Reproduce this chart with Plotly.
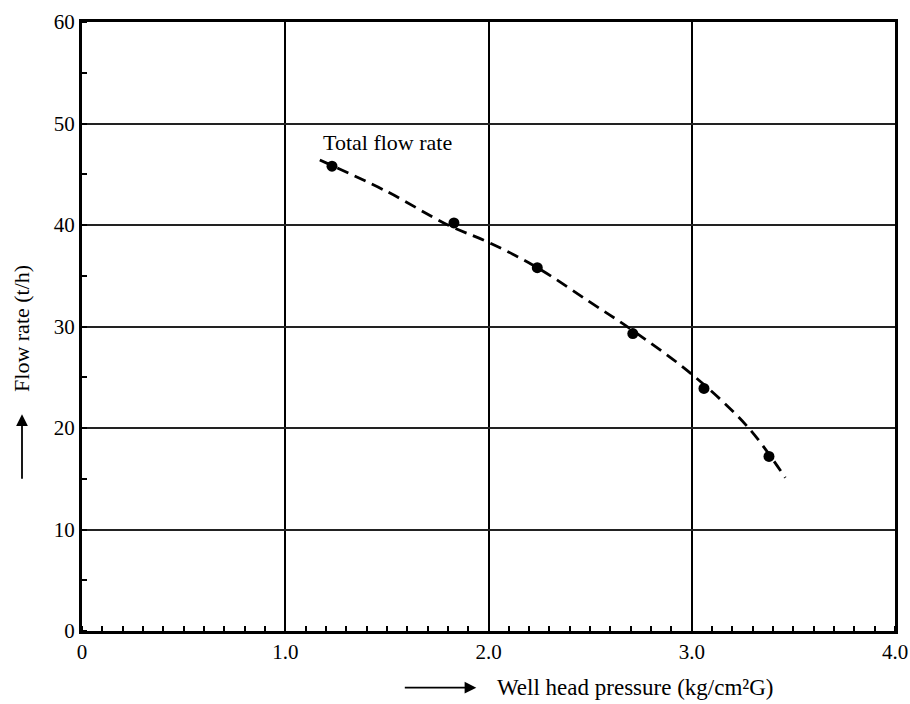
import plotly.graph_objects as go

# measured points
pressure = [1.23, 1.83, 2.24, 2.71, 3.06, 3.38]
flow = [45.8, 40.2, 35.8, 29.3, 23.9, 17.2]

# fitted dashed curve
curve_p = [1.17, 1.5, 1.80, 2.0, 2.24, 2.5, 2.71, 3.0, 3.28, 3.46]
curve_f = [46.4, 43.3, 40.0, 38.3, 35.8, 32.4, 29.6, 25.3, 20.0, 15.1]

x_ticks = [0, 1, 2, 3, 4]
x_tick_labels = ["0", "1.0", "2.0", "3.0", "4.0"]
y_ticks = [0, 10, 20, 30, 40, 50, 60]

FONT = "Liberation Serif"

fig = go.Figure()
fig.add_trace(go.Scatter(
    x=curve_p, y=curve_f, mode="lines",
    line=dict(color="black", width=2.8, dash="12px,7px", shape="spline"),
    hoverinfo="skip", showlegend=False))
fig.add_trace(go.Scatter(
    x=pressure, y=flow, mode="markers",
    marker=dict(color="black", size=11),
    showlegend=False))

fig.add_annotation(x=1.505, y=48.1, text="Total flow rate", showarrow=False,
                   font=dict(family=FONT, size=22, color="black"))

# y axis title with arrow
fig.add_annotation(xref="paper", yref="paper", x=-0.0738, y=0.496,
                   text="Flow rate (t/h)", textangle=-90, showarrow=False,
                   xanchor="center", yanchor="middle",
                   font=dict(family=FONT, size=22, color="black"))
fig.add_annotation(xref="paper", yref="paper", x=-0.0738, y=0.356,
                   text="", showarrow=True, arrowhead=2, arrowsize=1.3,
                   arrowwidth=1.8, arrowcolor="black", ax=0, ay=66)

# x axis title with arrow
fig.add_annotation(xref="paper", yref="paper", x=0.508, y=-0.092,
                   text="Well head pressure (kg/cm²G)", showarrow=False,
                   xanchor="left", yanchor="middle",
                   font=dict(family=FONT, size=23, color="black"))
fig.add_annotation(xref="paper", yref="paper", x=0.485, y=-0.093,
                   text="", showarrow=True, arrowhead=2, arrowsize=1.3,
                   arrowwidth=1.8, arrowcolor="black", ax=-73, ay=0)

fig.update_xaxes(range=[0, 4], tickvals=x_ticks, ticktext=x_tick_labels,
                 automargin=False,
                 showgrid=True, gridcolor="black", gridwidth=2,
                 showline=True, linecolor="black", linewidth=3, mirror=True,
                 zeroline=False, ticks="", ticklen=0,
                 tickfont=dict(family=FONT, size=21, color="black"),
                 minor=dict(dtick=0.1, ticks="inside", ticklen=5,
                            tickcolor="black", tickwidth=1.5, showgrid=False))
fig.update_yaxes(range=[0, 60], tickvals=y_ticks,
                 automargin=False,
                 showgrid=True, gridcolor="#222222", gridwidth=1.5,
                 showline=True, linecolor="black", linewidth=3, mirror=True,
                 zeroline=False, ticks="", ticklen=0,
                 tickfont=dict(family=FONT, size=21, color="black"),
                 minor=dict(dtick=5, ticks="inside", ticklen=5,
                            tickcolor="black", tickwidth=1.5, showgrid=False))

fig.update_layout(width=910, height=704,
                  margin=dict(l=82, r=15, t=22, b=73),
                  plot_bgcolor="white", paper_bgcolor="white",
                  font=dict(family=FONT, color="black"))

fig.write_html("out.html",
               config={"displayModeBar": False},
               post_script="document.body.style.margin='0';"
                           "document.body.style.overflow='hidden';")
